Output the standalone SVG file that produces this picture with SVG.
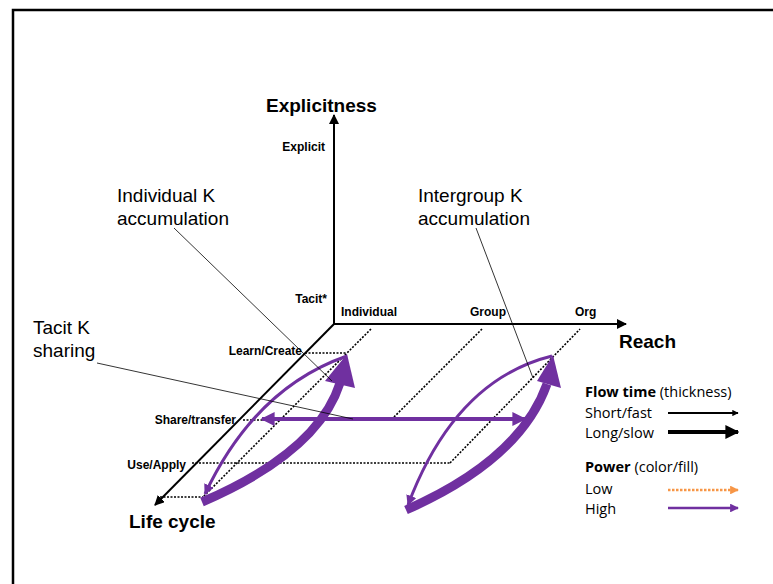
<svg xmlns="http://www.w3.org/2000/svg" width="773" height="584" viewBox="0 0 773 584">
<style>
.ax{stroke:#000;stroke-width:2;fill:none}
.dot{stroke:#000;stroke-width:1.6;stroke-dasharray:2 1.5;fill:none}
.call{stroke:#000;stroke-width:0.8;fill:none}
.pu{stroke:#7030A0;fill:none}
.lbl{font-family:"Liberation Sans",Arial,sans-serif;font-weight:bold;font-size:12px;fill:#000}
.big{font-family:"Liberation Sans",Arial,sans-serif;font-weight:bold;font-size:19px;fill:#000}
.ct{font-family:"Liberation Sans",Arial,sans-serif;font-size:19px;fill:#000}
.lg{font-family:"Open Sans","Liberation Sans",sans-serif;font-size:14.5px;fill:#000}
</style>
<defs>
<marker id="ah" viewBox="0 0 10 10" refX="9" refY="5" markerWidth="5" markerHeight="5" orient="auto" markerUnits="strokeWidth"><path d="M0,0 L10,5 L0,10 z" fill="#000"/></marker>
<marker id="ahp" viewBox="0 0 10 10" refX="9" refY="5" markerWidth="3.5" markerHeight="3.5" orient="auto-start-reverse" markerUnits="strokeWidth"><path d="M0,0 L10,5 L0,10 z" fill="#7030A0"/></marker>
<marker id="aho" viewBox="0 0 10 10" refX="9" refY="5" markerWidth="3.5" markerHeight="3.5" orient="auto" markerUnits="strokeWidth"><path d="M0,0 L10,5 L0,10 z" fill="#F79646"/></marker>
<marker id="ahk" viewBox="0 0 10 10" refX="9" refY="5" markerWidth="3.5" markerHeight="3.5" orient="auto" markerUnits="strokeWidth"><path d="M0,0 L10,5 L0,10 z" fill="#000"/></marker>
</defs>
<rect x="0" y="0" width="773" height="584" fill="#fff"/>
<path d="M13,590 L13,10 L780,10" stroke="#000" stroke-width="2.5" fill="none"/>

<g id="axes">
<line class="ax" x1="334" y1="324" x2="334" y2="115" marker-end="url(#ah)"/>
<line class="ax" x1="334" y1="324" x2="626" y2="324" stroke-width="1.6" marker-end="url(#ah)"/>
<line class="ax" x1="334" y1="324" x2="155" y2="505" stroke-width="1.6" marker-end="url(#ah)"/>
<text class="big" x="266" y="112">Explicitness</text>
<text class="big" x="619" y="348">Reach</text>
<text class="big" x="129" y="528">Life cycle</text>
<text class="lbl" x="325" y="151" text-anchor="end">Explicit</text>
<text class="lbl" x="327" y="303" text-anchor="end">Tacit*</text>
<text class="lbl" x="341" y="316">Individual</text>
<text class="lbl" x="470" y="316">Group</text>
<text class="lbl" x="575" y="316">Org</text>
<text class="lbl" x="302" y="355" text-anchor="end">Learn/Create</text>
<text class="lbl" x="236" y="424" text-anchor="end">Share/transfer</text>
<text class="lbl" x="186" y="469" text-anchor="end">Use/Apply</text>
</g>

<g id="gridlines">
<line class="dot" x1="305" y1="353" x2="346" y2="353"/>
<line class="dot" x1="371" y1="329" x2="203" y2="497"/>
<line class="dot" x1="160" y1="497" x2="203" y2="497"/>
<line class="dot" x1="243" y1="420" x2="262" y2="420"/>
<line class="dot" x1="192" y1="463" x2="450" y2="463"/>
<line class="dot" x1="450" y1="463" x2="580" y2="329"/>
<line class="dot" x1="482" y1="329" x2="393" y2="418"/>
</g>

<g id="connectors">
<path class="pu" stroke-width="3" d="M347,356 Q255,388 205,494" marker-end="url(#ahp)"/>
<path class="pu" stroke-width="9" d="M202,502 Q318,452 340,383"/>
<polygon points="347,354 325,381 355,388" fill="#7030A0"/>
<path class="pu" stroke-width="3" d="M552,356 Q455,380 408,505" marker-end="url(#ahp)"/>
<path class="pu" stroke-width="9" d="M406,510 Q520,460 547,384"/>
<polygon points="553,355 537,381 561,388" fill="#7030A0"/>
<line class="pu" stroke-width="4" x1="262" y1="419" x2="525" y2="419" marker-start="url(#ahp)" marker-end="url(#ahp)"/>
<line class="call" x1="174" y1="228" x2="332" y2="381"/>
<line class="call" x1="97" y1="363" x2="353" y2="419"/>
<line class="call" x1="476" y1="228" x2="533" y2="378"/>
</g>

<g id="callout-individual">
<text class="ct" x="117" y="202">Individual K</text>
<text class="ct" x="117" y="225">accumulation</text>
</g>
<g id="callout-tacit">
<text class="ct" x="33" y="334">Tacit K</text>
<text class="ct" x="33" y="357">sharing</text>
</g>
<g id="callout-intergroup">
<text class="ct" x="418" y="202">Intergroup K</text>
<text class="ct" x="418" y="225">accumulation</text>
</g>

<g id="legend">
<text class="lg" x="585" y="397"><tspan font-weight="bold">Flow time</tspan> (thickness)</text>
<text class="lg" x="585" y="418">Short/fast</text>
<line x1="668" y1="413" x2="738" y2="413" stroke="#000" stroke-width="1.8" marker-end="url(#ahk)"/>
<text class="lg" x="585" y="438">Long/slow</text>
<line x1="668" y1="432" x2="738" y2="432" stroke="#000" stroke-width="4" marker-end="url(#ahk)"/>
<text class="lg" x="585" y="472"><tspan font-weight="bold">Power</tspan> (color/fill)</text>
<text class="lg" x="585" y="494">Low</text>
<line x1="668" y1="490" x2="738" y2="490" stroke="#F79646" stroke-width="2.5" stroke-dasharray="2.5 1.5" marker-end="url(#aho)"/>
<text class="lg" x="585" y="514">High</text>
<line x1="668" y1="508" x2="738" y2="508" stroke="#7030A0" stroke-width="2.5" marker-end="url(#ahp)"/>
</g>
</svg>
